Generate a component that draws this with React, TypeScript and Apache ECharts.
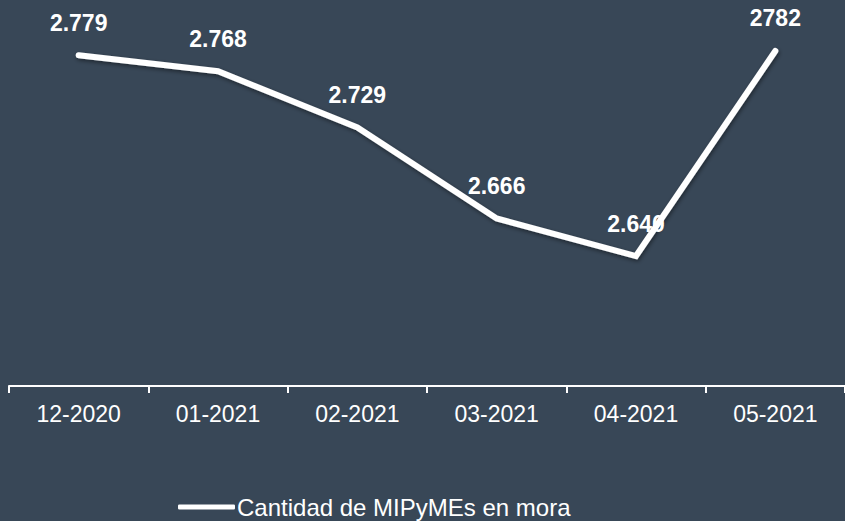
import React, { useEffect, useRef } from "react";
import * as echarts from "echarts";

const categories = ["12-2020", "01-2021", "02-2021", "03-2021", "04-2021", "05-2021"];
const values = [2779, 2768, 2729, 2666, 2640, 2782];
const valueLabels = ["2.779", "2.768", "2.729", "2.666", "2.640", "2782"];
const seriesName = "Cantidad de MIPyMEs en mora";

export default function App() {
  const ref = useRef<HTMLDivElement>(null);
  useEffect(() => {
    if (!ref.current) return;
    const chart = echarts.init(ref.current, undefined, { renderer: "svg" });
    chart.setOption({
      animation: false,
      backgroundColor: "#384757",
      textStyle: { fontFamily: "Liberation Sans, Arial, sans-serif" },
      grid: { left: 9, width: 841, top: 25, bottom: 135 },
      legend: {
        data: [seriesName],
        left: 173,
        top: 490,
        icon: "roundRect",
        itemWidth: 57,
        itemHeight: 5,
        itemGap: 10,
        textStyle: { color: "#ffffff", fontSize: 24, padding: [0, 0, 0, -3] },
      },
      xAxis: {
        type: "category",
        data: categories,
        boundaryGap: true,
        axisLine: { lineStyle: { color: "#ffffff", width: 2 } },
        axisTick: { show: true, length: 7, lineStyle: { color: "#ffffff", width: 2 } },
        axisLabel: { color: "#ffffff", fontSize: 23, margin: 16 },
      },
      yAxis: {
        type: "value",
        min: 2550,
        max: 2800,
        show: false,
        splitLine: { show: false },
      },
      series: [
        {
          name: seriesName,
          type: "line",
          data: values,
          showSymbol: true,
          symbol: "circle",
          symbolSize: 2,
          itemStyle: { color: "#ffffff" },
          color: "#ffffff",
          lineStyle: {
            color: "#ffffff",
            width: 6,
            cap: "round",
            join: "miter",
            shadowColor: "rgba(0,0,0,0.45)",
            shadowBlur: 4,
            shadowOffsetX: 1,
            shadowOffsetY: 2,
          },
          label: {
            show: true,
            position: "top",
            distance: 20,
            color: "#ffffff",
            fontSize: 23,
            fontWeight: "bold",
            formatter: (p: any) => valueLabels[p.dataIndex],
          },
        },
      ],
    });
    return () => chart.dispose();
  }, []);
  return <div ref={ref} style={{ width: 845, height: 521, position: "absolute", left: 0, top: 0 }} />;
}
